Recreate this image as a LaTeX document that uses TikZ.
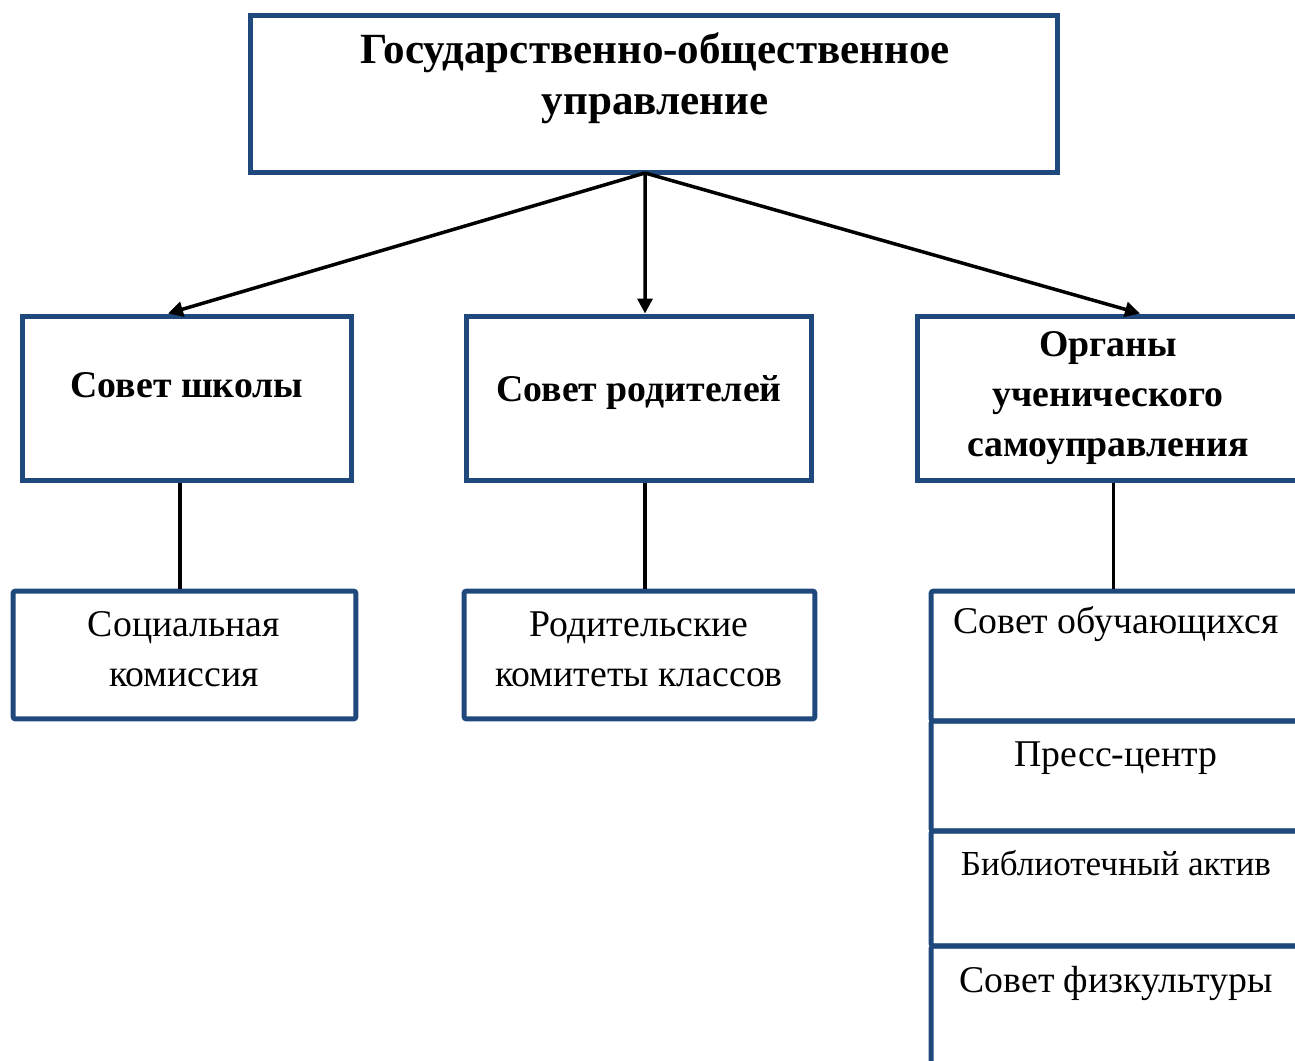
\documentclass[tikz,border=0pt]{standalone}
\usepackage{fontspec}
\setmainfont{Liberation Serif}
\usetikzlibrary{arrows.meta,positioning}
\definecolor{boxblue}{HTML}{1F497D}
\begin{document}
\begin{tikzpicture}[x=0.02cm,y=-0.02cm,%
box/.style={rectangle, draw=boxblue, line width=0.1cm, inner sep=0pt},
lowbox/.style={box, rounded corners=1.5pt},
txt/.style={align=center, inner sep=0pt, font=\fontsize{21.5}{28.5}\selectfont},
btxt/.style={txt, font=\fontsize{21.5}{28.5}\selectfont\bfseries},
conn/.style={line width=0.07cm, black},
arr/.style={conn, -{Triangle[length=0.3cm,width=0.3cm]}}]
\useasboundingbox (0,0) rectangle (1295,1061);
% boxes
\node (gos) at (654,94) [box, minimum width=16.16cm, minimum height=3.16cm] {};
\node (shkola) at (187,398.5) [box, minimum width=6.6cm, minimum height=3.3cm] {};
\node (roditeli) at (639,398.5) [box, minimum width=6.92cm, minimum height=3.3cm] {};
\node (organy) at (1113.5,398.5) [box, minimum width=7.86cm, minimum height=3.3cm] {};
\node (socKom) at (184.5,655) [lowbox, minimum width=6.86cm, minimum height=2.56cm] {};
\node (rodKom) at (639.5,655) [lowbox, minimum width=7.02cm, minimum height=2.56cm] {};
\node (sovObuch) at (1120.5,656) [lowbox, minimum width=7.58cm, minimum height=2.6cm] {};
\node (press) at (1120.5,776) [lowbox, minimum width=7.58cm, minimum height=2.2cm] {};
\node (biblio) at (1120.5,888.5) [lowbox, minimum width=7.58cm, minimum height=2.3cm] {};
\node (fizkult) at (1120.5,1013) [lowbox, minimum width=7.58cm, minimum height=2.68cm] {};
% texts
\node (gosT) at (655,78) [btxt, font=\fontsize{24.5}{29}\selectfont\bfseries] {Государственно-общественное\\управление};
\node (shkolaT) at (187,385) [btxt] {Совет школы};
\node (roditeliT) at (639,393) [btxt] {Совет родителей};
\node (organyT) at (1108,398) [btxt] {Органы\\ученического\\самоуправления};
\node (socKomT) at (184,649) [txt] {Социальная\\комиссия};
\node (rodKomT) at (639,649) [txt] {Родительские\\комитеты классов};
\node (sovObuchT) at (1116,624) [txt] {Совет обучающихся};
\node (pressT) at (1116,758) [txt] {Пресс-центр};
\node (biblioT) at (1116,863) [txt, font=\fontsize{20}{26}\selectfont] {Библиотечный актив};
\node (fizkultT) at (1116,983) [txt] {Совет физкультуры};
% connectors
\coordinate (fork) at (645,173);
\draw[arr] (fork) -- ([xshift=-0.38cm]shkola.north);
\draw[arr] (fork) -- ([xshift=0.12cm]roditeli.north);
\draw[arr] (fork) -- ([xshift=0.53cm]organy.north);
\draw[conn] ([xshift=-0.14cm]shkola.south) -- ([xshift=-0.14cm]shkola.south |- socKom.north);
\draw[conn] ([xshift=0.12cm]roditeli.south) -- ([xshift=0.12cm]roditeli.south |- rodKom.north);
\draw[conn] (organy.south) -- (organy.south |- sovObuch.north);
\end{tikzpicture}
\end{document}
